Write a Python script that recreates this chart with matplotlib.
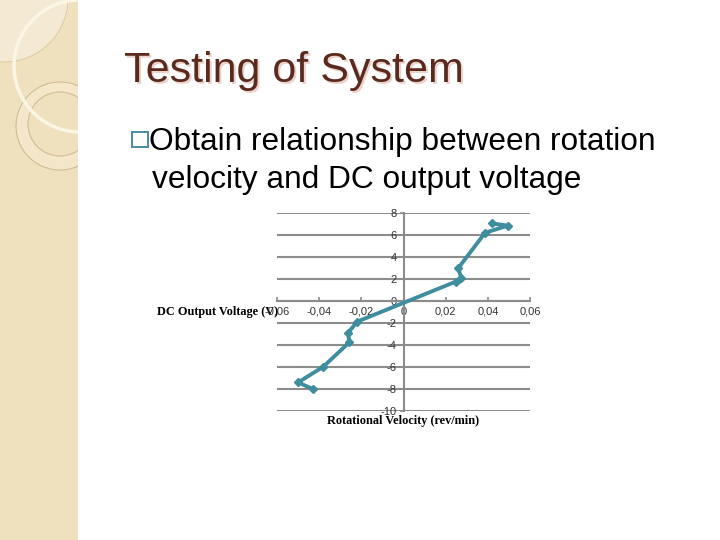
import numpy as np
import matplotlib
matplotlib.use("Agg")
import matplotlib.pyplot as plt
from matplotlib.patches import Rectangle, Circle
from matplotlib.ticker import FuncFormatter

# values
velocity = [0.0418, 0.0494, 0.0387, 0.0259, 0.0275, 0.0248,
            -0.0220, -0.0263, -0.0257, -0.0380, -0.0500, -0.0427]
voltage = [7.06, 6.85, 6.20, 2.97, 2.06, 1.76,
           -1.88, -2.90, -3.75, -5.97, -7.40, -8.03]
x_ticks = [-0.06, -0.04, -0.02, 0, 0.02, 0.04, 0.06]
y_ticks = [-10, -8, -6, -4, -2, 0, 2, 4, 6, 8]

title = "Testing of System"
bullet_1 = "Obtain relationship between rotation"
bullet_2 = "velocity and DC output voltage"
x_label = "Rotational Velocity (rev/min)"
y_label = "DC Output Voltage (V)"

plt.rcParams['font.family'] = ['Liberation Sans', 'DejaVu Sans']

fig = plt.figure(figsize=(7.2, 5.4), dpi=100)
fig.patch.set_facecolor('white')

# background layer in pixel coordinates
bg = fig.add_axes([0, 0, 1, 1])
bg.set_xlim(0, 720)
bg.set_ylim(540, 0)
bg.axis('off')

panel = Rectangle((0, 0), 78, 540, facecolor='#EFE0BE', edgecolor='none')
bg.add_patch(panel)
light = Circle((4, -2), 64, facecolor='#F4EAD3', edgecolor='#D9C6A0', lw=0.6)
bg.add_patch(light)
light.set_clip_path(panel)
ring_out = Circle((60, 126), 44, facecolor='#F3E6C9', edgecolor='#CDB88F', lw=0.7)
ring_in = Circle((60, 124), 32, facecolor='#EFE0BE', edgecolor='#CDB88F', lw=0.7)
arc = Circle((80, 66), 66, facecolor='none', edgecolor='#FBF5E6', lw=2.5)
for p in (ring_out, ring_in, arc):
    bg.add_patch(p)
    p.set_clip_path(panel)

bg.text(125.5, 84, title, fontsize=31, color='#EBD3CB', va='baseline', ha='left')
bg.text(123.5, 82, title, fontsize=31, color='#5A2A1F', va='baseline', ha='left')
bg.add_patch(Rectangle((132, 132), 16, 15, facecolor='none', edgecolor='#4A8AA6', lw=1.4))
bg.text(149, 150, bullet_1, fontsize=22.8, color='black', va='baseline', ha='left')
bg.text(152, 188, bullet_2, fontsize=22.8, color='black', va='baseline', ha='left')
bg.text(157, 312, y_label, fontsize=8.8, fontweight='bold', va='center', ha='left',
        family='Liberation Serif')

# chart
ax = fig.add_axes([277 / 720, 1 - 411 / 540, 253 / 720, 198 / 540])
ax.set_facecolor('none')
ax.plot(velocity, voltage, color='#3E8EA0', lw=2.8, marker='D', markersize=4,
        solid_joinstyle='round', zorder=3)
ax.set_xlim(-0.06, 0.06)
ax.set_ylim(-10, 8)
ax.set_xticks(x_ticks)
ax.set_yticks(y_ticks)
ax.xaxis.set_major_formatter(FuncFormatter(
    lambda v, p: '0' if abs(v) < 1e-9 else f"{v:.2f}".replace('.', ',')))
ax.yaxis.set_major_formatter(FuncFormatter(lambda v, p: f"{v:g}"))
for v in y_ticks:
    ax.axhline(v, color='#8C8C8C', lw=1.5, zorder=1)
for side in ('top', 'right'):
    ax.spines[side].set_visible(False)
ax.spines['left'].set_position(('data', 0))
ax.spines['bottom'].set_position(('data', 0))
for side in ('left', 'bottom'):
    ax.spines[side].set_color('#8C8C8C')
    ax.spines[side].set_linewidth(1.5)
ax.tick_params(axis='both', colors='#8C8C8C', labelcolor='#333333', labelsize=8,
               length=3, width=1.2, direction='out', pad=2)
ax.tick_params(axis='x', direction='in', length=3, pad=4)
ax.set_xlabel(x_label, fontsize=8.8, fontweight='bold', family='Liberation Serif')
ax.xaxis.set_label_coords(0.5, -0.02)

fig.savefig('out.png', dpi=100)
